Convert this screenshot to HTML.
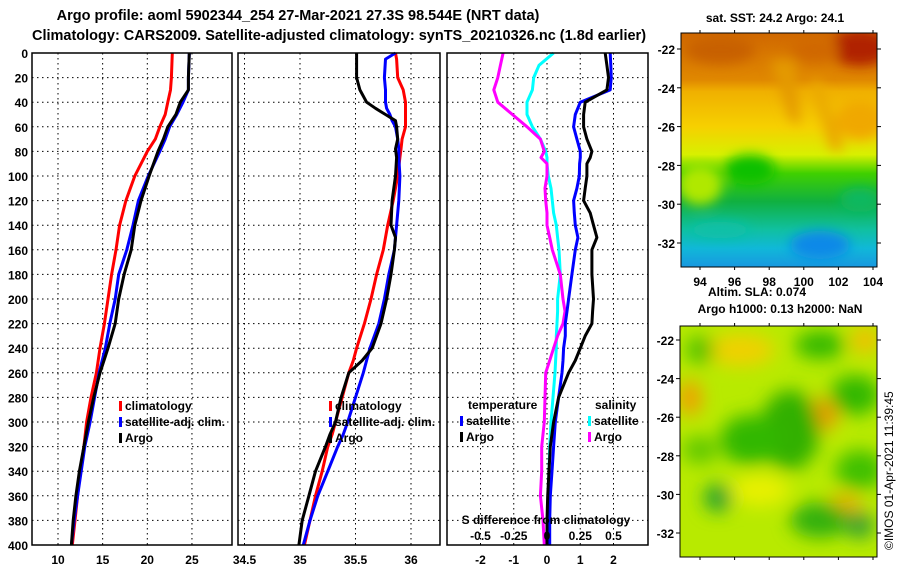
<!DOCTYPE html>
<html><head><meta charset="utf-8">
<style>
html,body{margin:0;padding:0;background:#fff;}
svg{display:block;font-family:"Liberation Sans",sans-serif;font-weight:bold;}
</style></head>
<body>
<svg id="c" width="900" height="580" viewBox="0 0 900 580" xmlns="http://www.w3.org/2000/svg">
<defs>
<filter id="bl" x="-20%" y="-20%" width="140%" height="140%"><feGaussianBlur stdDeviation="6"/></filter>
<filter id="bl2" x="-20%" y="-20%" width="140%" height="140%"><feGaussianBlur stdDeviation="9"/></filter>
<clipPath id="m1"><rect x="681" y="33" width="196" height="234"/></clipPath>
<clipPath id="m2"><rect x="680" y="326" width="197" height="231"/></clipPath>
<linearGradient id="sst" x1="0" y1="0" x2="0" y2="1">
<stop offset="0" stop-color="#d06800"/><stop offset="0.2" stop-color="#e08800"/>
<stop offset="0.25" stop-color="#f0b000"/><stop offset="0.4" stop-color="#f6d000"/>
<stop offset="0.52" stop-color="#d8f000"/><stop offset="0.6" stop-color="#40d000"/>
<stop offset="0.72" stop-color="#10b040"/><stop offset="0.84" stop-color="#10c0a0"/>
<stop offset="0.92" stop-color="#10b8d8"/><stop offset="1" stop-color="#1898e0"/>
</linearGradient>
</defs>
<text x="298" y="20" font-size="14.5" text-anchor="middle">Argo profile: aoml 5902344_254 27-Mar-2021 27.3S 98.544E (NRT data)</text>
<text x="339" y="40" font-size="14.5" text-anchor="middle">Climatology: CARS2009. Satellite-adjusted climatology: synTS_20210326.nc (1.8d earlier)</text>
<g id="g"></g>

<g clip-path="url(#m1)">
<rect x="681" y="33" width="196" height="234" fill="url(#sst)"/>
<g filter="url(#bl)">
<ellipse cx="860" cy="48" rx="30" ry="18" fill="#b02000"/>
<ellipse cx="720" cy="50" rx="35" ry="14" fill="#c86000"/>
<ellipse cx="815" cy="50" rx="25" ry="12" fill="#d06800"/>
<path d="M770,60 L790,120 L800,125 L795,60Z" fill="#e49a00"/>
<path d="M810,80 L830,150 L845,150 L820,80Z" fill="#eaa800"/>
<ellipse cx="860" cy="120" rx="25" ry="20" fill="#f0a800"/>
<ellipse cx="700" cy="185" rx="22" ry="20" fill="#b0e800"/>
<ellipse cx="750" cy="170" rx="25" ry="15" fill="#10c000"/>
<ellipse cx="820" cy="245" rx="30" ry="14" fill="#1088e8"/>
<ellipse cx="720" cy="230" rx="30" ry="8" fill="#10c0a8"/>
<ellipse cx="860" cy="200" rx="20" ry="12" fill="#10b860"/>
</g>
</g>
<rect x="681" y="33" width="196" height="234" fill="none" stroke="#000"/>
<text x="775" y="22" font-size="12" text-anchor="middle">sat. SST: 24.2 Argo: 24.1</text>

<g clip-path="url(#m2)">
<rect x="680" y="326" width="197" height="231" fill="#b8ea00"/>
<g filter="url(#bl2)">
<ellipse cx="740" cy="350" rx="35" ry="16" fill="#f0d000"/>
<ellipse cx="865" cy="340" rx="14" ry="14" fill="#f0c000"/>
<ellipse cx="690" cy="398" rx="12" ry="18" fill="#f0a000"/>
<ellipse cx="820" cy="415" rx="18" ry="16" fill="#f09800"/>
<ellipse cx="845" cy="505" rx="16" ry="12" fill="#f0b000"/>
<ellipse cx="760" cy="490" rx="30" ry="16" fill="#e8f000"/>
<ellipse cx="790" cy="430" rx="30" ry="40" fill="#30b000"/>
<ellipse cx="750" cy="440" rx="30" ry="25" fill="#30b800"/>
<ellipse cx="855" cy="395" rx="25" ry="20" fill="#30b800"/>
<ellipse cx="820" cy="345" rx="25" ry="14" fill="#30b800"/>
<ellipse cx="860" cy="470" rx="25" ry="20" fill="#40c000"/>
<ellipse cx="820" cy="520" rx="30" ry="18" fill="#30b010"/>
<ellipse cx="718" cy="498" rx="14" ry="14" fill="#20a030"/>
<ellipse cx="700" cy="450" rx="18" ry="14" fill="#60c800"/>
<ellipse cx="860" cy="525" rx="14" ry="14" fill="#30a030"/>
<ellipse cx="700" cy="350" rx="14" ry="14" fill="#50c000"/>
</g>
</g>
<rect x="680" y="326" width="197" height="231" fill="none" stroke="#000"/>
<text x="757" y="296" font-size="12" text-anchor="middle">Altim. SLA: 0.074</text>
<text x="780" y="313" font-size="12" text-anchor="middle">Argo h1000: 0.13 h2000: NaN</text>
<text transform="translate(893,550) rotate(-90)" font-size="12" font-weight="normal">©IMOS 01-Apr-2021 11:39:45</text>
</svg>
<script>
// ---------- data ----------
const tDepth = [0,20,30,40,50,60,70,80,100,120,140,160,180,200,220,240,260,280,300,320,340,360,380,400];
const tClim  = [22.8,22.7,22.6,22.3,22.0,21.4,20.9,20.0,18.6,17.6,16.9,16.5,16.0,15.6,15.2,14.7,14.3,13.7,13.2,12.9,12.5,12.2,11.9,11.6];
const tSat   = [24.7,24.6,24.6,24.0,23.3,22.5,22.0,21.4,20.1,19.0,18.4,17.7,16.8,16.4,15.8,15.3,14.6,14.1,13.6,13.0,12.6,12.2,11.8,11.5];
const tArgo  = [24.7,24.6,24.6,23.7,23.2,22.3,21.8,21.2,20.2,19.3,18.6,18.2,17.4,16.8,16.4,15.6,14.7,14.0,13.4,12.9,12.4,12.0,11.7,11.5];
const sDepth = [0,5,20,30,40,45,50,55,60,70,78,85,100,120,140,150,160,180,200,220,240,250,260,280,300,310,320,340,360,380,400];
const sClim  = [35.86,35.87,35.88,35.93,35.95,35.95,35.95,35.95,35.95,35.92,35.91,35.90,35.88,35.84,35.79,35.77,35.75,35.69,35.64,35.58,35.51,35.48,35.44,35.38,35.32,35.29,35.25,35.20,35.14,35.09,35.04];
const sSat   = [35.86,35.77,35.76,35.77,35.77,35.78,35.81,35.83,35.86,35.88,35.89,35.89,35.90,35.89,35.87,35.86,35.85,35.80,35.76,35.71,35.63,35.60,35.57,35.50,35.43,35.39,35.34,35.25,35.16,35.09,35.03];
const sArgo  = [35.51,35.51,35.51,35.54,35.60,35.68,35.77,35.86,35.87,35.88,35.86,35.87,35.86,35.83,35.82,35.86,35.85,35.82,35.78,35.73,35.65,35.56,35.44,35.37,35.32,35.27,35.23,35.14,35.08,35.02,34.99];
const dDepth = [0,10,20,30,40,50,60,70,80,85,90,100,110,120,130,140,150,160,180,200,210,220,230,240,250,260,280,300,320,340,360,380,400];
const dTArgo = [1.75,1.8,1.85,1.8,1.15,1.1,1.1,1.2,1.35,1.3,1.2,1.2,1.15,1.1,1.3,1.4,1.5,1.35,1.35,1.4,1.37,1.35,1.15,1.0,0.85,0.65,0.35,0.2,0.1,0.06,0.02,0.0,0.0];
const dTSat  = [1.9,1.92,1.93,1.9,1.0,0.85,0.8,0.9,1.0,1.0,0.98,0.97,0.9,0.8,0.82,0.85,0.93,0.85,0.75,0.65,0.6,0.55,0.55,0.5,0.48,0.45,0.35,0.25,0.2,0.15,0.1,0.08,0.08];
const dSSat  = [0.05,-0.06,-0.10,-0.11,-0.15,-0.15,-0.11,-0.05,-0.01,0.0,0.0,0.01,0.03,0.04,0.05,0.07,0.08,0.09,0.10,0.08,0.08,0.075,0.07,0.07,0.065,0.06,0.045,0.03,0.02,0.015,0.01,0.01,0.01];
const dSArgo = [-0.33,-0.35,-0.37,-0.40,-0.37,-0.26,-0.15,-0.05,-0.02,-0.045,0.0,0.0,-0.015,-0.01,0.0,0.0,0.02,0.04,0.10,0.12,0.135,0.12,0.08,0.05,0.02,-0.01,-0.015,-0.02,-0.04,-0.04,-0.05,-0.03,-0.02];
const depthTicks = [0,20,40,60,80,100,120,140,160,180,200,220,240,260,280,300,320,340,360,380,400];
const tTicks = [10,15,20,25];
const sTicks = [34.5,35,35.5,36];
const sTickLabels = ["34.5","35","35.5","36"];
const dTicks = [-2,-1,0,1,2];
const dSTicks = [-0.5,-0.25,0,0.25,0.5];
const dSTickLabels = ["-0.5","-0.25","0","0.25","0.5"];
const latTicks = [-22,-24,-26,-28,-30,-32];
const lonTicks = [94,96,98,100,102,104];

// ---------- scales ----------
const plotTop=53, plotBot=545;
const yD = d => plotTop + d*(plotBot-plotTop)/400;
const P1={x0:32,x1:232, sx:v=>58+(v-10)*8.93};
const P2={x0:238,x1:440, sx:v=>300+(v-35)*111};
const P3={x0:447,x1:648, sx:v=>547+v*33.25};
const sxS3 = v => P3.sx(v*4);
const NS="http://www.w3.org/2000/svg";
const G=document.getElementById('g');
function mk(tag,attrs,parent){const e=document.createElementNS(NS,tag);for(const k in attrs)e.setAttribute(k,attrs[k]);(parent||G).appendChild(e);return e;}
function txt(x,y,s,anchor,size){const t=mk('text',{x:x,y:y,'font-size':size||12,'text-anchor':anchor||'start'});t.textContent=s;return t;}

function panel(P,name,xt,xl){
  const fr=mk('g',{});
  
  
  depthTicks.forEach(d=>{mk('line',{x1:P.x0,x2:P.x1,y1:yD(d),y2:yD(d),stroke:'#000','stroke-dasharray':'1.5,3.5'},fr);});
  xt.forEach(v=>{const x=P.sx(v);mk('line',{x1:x,x2:x,y1:plotTop,y2:plotBot,stroke:'#000','stroke-dasharray':'1.5,3.5'},fr);});
  xt.forEach((v,i)=>{const t=txt(P.sx(v),564,xl[i],'middle');
    
    });
  return fr;
}
function line(P,sx,ds,vs,col,name){
  let d='';ds.forEach((dd,i)=>{d+=(i?'L':'M')+sx(vs[i]).toFixed(1)+','+yD(dd).toFixed(1);});
  const p=mk('path',{d:d,fill:'none',stroke:col,'stroke-width':3,'stroke-linejoin':'round'});
  
  
}
function frame(P){const r=mk('rect',{x:P.x0,y:plotTop,width:P.x1-P.x0,height:plotBot-plotTop,fill:'none',stroke:'#000','stroke-width':1.5});
  
  }
function legend(x,y,col,label){
  mk('rect',{x:x,y:y-9,width:3,height:10,fill:col});
  const t=txt(x+6,y,label);
  
  
}

panel(P1,'temperature-panel',tTicks,tTicks.map(String));
line(P1,P1.sx,tDepth,tClim,'#f00','temp-climatology-line');
line(P1,P1.sx,tDepth,tSat,'#00f','temp-satellite-line');
line(P1,P1.sx,tDepth,tArgo,'#000','temp-argo-line');
frame(P1);
depthTicks.forEach(d=>{const t=txt(28,yD(d)+5,String(d),'end');
  
  });
legend(119,410,'#f00','climatology');legend(119,426,'#00f','satellite-adj. clim.');legend(119,442,'#000','Argo');

panel(P2,'salinity-panel',sTicks,sTickLabels);
line(P2,P2.sx,sDepth,sClim,'#f00','sal-climatology-line');
line(P2,P2.sx,sDepth,sSat,'#00f','sal-satellite-line');
line(P2,P2.sx,sDepth,sArgo,'#000','sal-argo-line');
frame(P2);
legend(329,410,'#f00','climatology');legend(329,426,'#00f','satellite-adj. clim.');legend(329,442,'#000','Argo');

panel(P3,'difference-panel',dTicks,dTicks.map(String));
line(P3,sxS3,dDepth,dSSat,'#0ff','sal-diff-satellite-line');
line(P3,sxS3,dDepth,dSArgo,'#f0f','sal-diff-argo-line');
line(P3,P3.sx,dDepth,dTSat,'#00f','temp-diff-satellite-line');
line(P3,P3.sx,dDepth,dTArgo,'#000','temp-diff-argo-line');
frame(P3);
let tt=txt(468,409,'temperature');


legend(460,425,'#00f','satellite');legend(460,441,'#000','Argo');
tt=txt(595,409,'salinity');


legend(588,425,'#0ff','satellite');legend(588,441,'#f0f','Argo');
tt=txt(546,524,'S difference from climatology','middle');


dSTicks.forEach((v,i)=>{const e=txt(sxS3(v),540,dSTickLabels[i],'middle');
  
  });

const SVGROOT=document.getElementById('c');
function mapAxes(y0,y1,x0,x1,latY,showLon){
  latTicks.forEach(v=>{const y=latY(v);
    mk('line',{x1:x0-4,x2:x0,y1:y,y2:y,stroke:'#000'},SVGROOT);mk('line',{x1:x1,x2:x1+4,y1:y,y2:y,stroke:'#000'},SVGROOT);
    const e=mk('text',{x:x0-6,y:y+5,'font-size':12,'text-anchor':'end'},SVGROOT);e.textContent=String(v);
    
    });
  lonTicks.forEach(v=>{const x=700+(v-94)*17.3;
    mk('line',{x1:x,x2:x,y1:y0-3,y2:y0,stroke:'#000'},SVGROOT);mk('line',{x1:x,x2:x,y1:y1,y2:y1+3,stroke:'#000'},SVGROOT);
    if(showLon){const e=mk('text',{x:x,y:y1+19,'font-size':12,'text-anchor':'middle'},SVGROOT);e.textContent=String(v);
    
    }});
}
mapAxes(33,267,681,877,v=>49+(-22-v)*19.4,true);
mapAxes(326,557,680,877,v=>340+(-22-v)*19.3,false);
</script>
</body></html>
